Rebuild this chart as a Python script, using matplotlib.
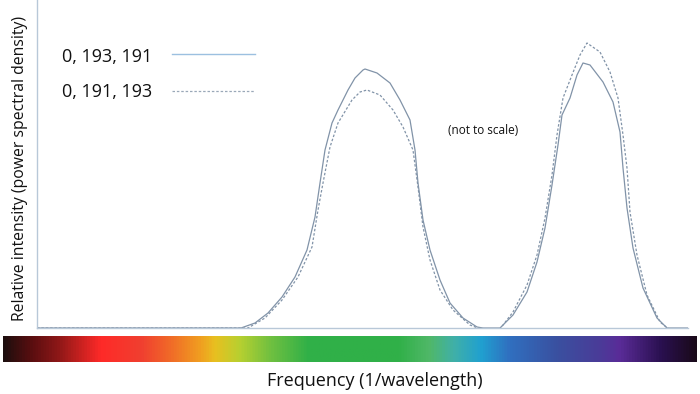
import matplotlib
matplotlib.use("Agg")
import matplotlib.pyplot as plt
import numpy as np
from matplotlib.colors import LinearSegmentedColormap

# Data (arbitrary frequency units, relative intensity)
solid_label = "0, 193, 191"
solid_x = [0, 204, 218, 231, 245, 258, 270, 278, 283, 288, 295, 301, 311, 318, 326, 328, 340, 353, 363, 373,
           378, 381, 386, 393, 403, 413, 426, 440, 446, 463, 476, 490, 500, 508, 515, 521, 525, 533, 540, 546,
           553, 566, 576, 583, 586, 590, 596, 606, 620, 630, 651]
solid_y = [0, 0, 5, 15, 31, 51, 78, 111, 145, 178, 205, 218, 238, 250, 258, 259, 255, 245, 228, 208,
           178, 145, 108, 78, 48, 25, 10, 1, 0, 0, 13, 36, 66, 100, 143, 183, 213, 230, 253, 265,
           263, 246, 226, 196, 160, 120, 80, 40, 10, 0, 0]

dash_label = "0, 191, 193"
dash_x = [0, 211, 228, 245, 261, 275, 281, 286, 293, 301, 315, 323, 330, 343, 356, 366, 376, 381, 386, 393,
          403, 416, 433, 446, 458, 463, 476, 490, 500, 508, 515, 520, 526, 535, 543, 550, 563, 573, 581, 586,
          590, 593, 600, 610, 623, 633, 643]
dash_y = [0, 0, 10, 28, 51, 81, 118, 145, 181, 205, 228, 236, 238, 233, 218, 201, 178, 141, 101, 68,
          38, 18, 3, -2, -2, -1, 16, 43, 73, 110, 153, 193, 230, 253, 273, 285, 276, 256, 230, 193,
          160, 116, 73, 33, 6, -2, -4]

spectrum_stops = [0.0, 0.04, 0.08, 0.14, 0.20, 0.24, 0.285, 0.305, 0.34, 0.385, 0.44, 0.57, 0.615, 0.65,
                  0.69, 0.73, 0.80, 0.86, 0.89, 0.95, 1.0]
spectrum_colors = ["#1e0e0e", "#5a0e10", "#901818", "#ff2a28", "#f04030", "#f06a28", "#f0a020", "#e8c020",
                   "#b8d030", "#70c040", "#30b048", "#30b048", "#50b868", "#40b0a8", "#20a0d0", "#3070c0",
                   "#3a50a0", "#4a3c98", "#5a2c98", "#2a1050", "#1a0a1a"]

fig = plt.figure(figsize=(7.0, 3.94), dpi=100)
font = "Open Sans"

ax = fig.add_axes([37/700, 1 - 328/394, (688 - 37)/700, 328/394])
line_col = "#8193a8"
ax.plot(solid_x, solid_y, color=line_col, lw=0.9, solid_joinstyle="round")
ax.plot(dash_x, dash_y, color=line_col, lw=0.9, ls=(0, (2, 1.5)))
ax.set_xlim(0, 651)
ax.set_ylim(0, 328)
ax.set_xticks([])
ax.set_yticks([])
for s in ["top", "right"]:
    ax.spines[s].set_visible(False)
for s in ["left", "bottom"]:
    ax.spines[s].set_color("#b8c8d8")
    ax.spines[s].set_linewidth(1.0)
ax.patch.set_alpha(0)

# legend
fig.text(62/700, 1 - 57/394, solid_label, fontsize=13, family=font, va="center", ha="left", color="#111111")
fig.text(62/700, 1 - 92/394, dash_label, fontsize=13, family=font, va="center", ha="left", color="#111111")
fig.add_artist(plt.Line2D([172/700, 255/700], [1 - 54/394, 1 - 54/394], color="#9cc0e0", lw=1.0))
fig.add_artist(plt.Line2D([172/700, 255/700], [1 - 91/394, 1 - 91/394], color="#9aa8b8", lw=0.9, ls=(0, (2, 1.5))))

fig.text(483/700, 1 - 130/394, "(not to scale)", fontsize=8.5, family=font, ha="center", va="center", color="#111111")

fig.text(20/700, 1 - 168/394, "Relative intensity (power spectral density)", rotation=90, fontsize=11.3,
         family=font, ha="center", va="center", color="#111111")

# spectrum bar
cmap = LinearSegmentedColormap.from_list("spec", list(zip(spectrum_stops, spectrum_colors)))
bax = fig.add_axes([3/700, 1 - 362/394, 694/700, 26/394])
bax.imshow(np.linspace(0, 1, 512)[None, :], aspect="auto", cmap=cmap, extent=[0, 1, 0, 1])
bax.axis("off")

fig.text(375/700, 1 - 381/394, "Frequency (1/wavelength)", fontsize=13, family=font, ha="center", va="center",
         color="#111111")

fig.savefig("out.png", dpi=100)
